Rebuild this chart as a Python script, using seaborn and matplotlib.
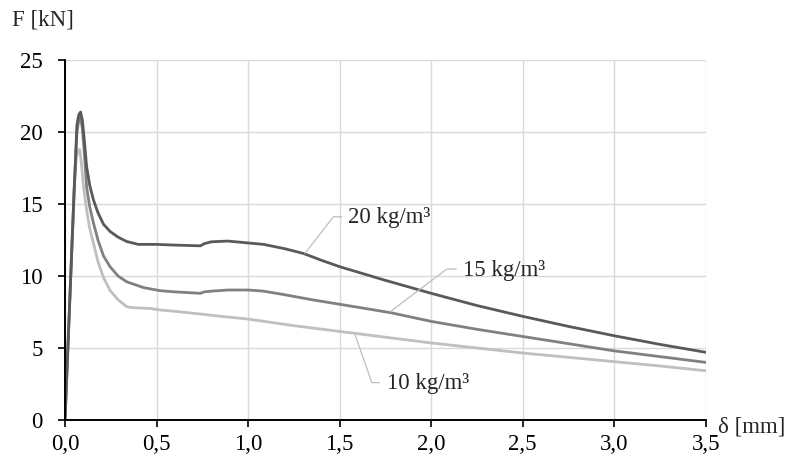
import numpy as np
import pandas as pd
import matplotlib
matplotlib.use("Agg")
import matplotlib.pyplot as plt
import seaborn as sns

# force-displacement curves
x20 = [0, 0.02, 0.05, 0.065, 0.075, 0.085, 0.095, 0.105, 0.118, 0.135, 0.155, 0.18, 0.21, 0.246, 0.29,
       0.337, 0.4, 0.5, 0.6, 0.74, 0.76, 0.8, 0.89, 1.0, 1.084, 1.2, 1.302, 1.4, 1.5, 1.75, 2.0, 2.25,
       2.5, 2.75, 3.0, 3.25, 3.5]
y20 = [0, 6.4, 16.0, 20.5, 21.2, 21.4, 20.8, 19.5, 17.6, 16.3, 15.3, 14.4, 13.6, 13.1, 12.7,
       12.4, 12.2, 12.2, 12.15, 12.1, 12.25, 12.38, 12.43, 12.3, 12.2, 11.9, 11.57, 11.1, 10.65, 9.7, 8.8, 7.95,
       7.2, 6.5, 5.85, 5.25, 4.7]

x15 = [0, 0.02, 0.05, 0.065, 0.075, 0.085, 0.095, 0.105, 0.118, 0.135, 0.155, 0.18, 0.21, 0.246, 0.29,
       0.337, 0.428, 0.52, 0.6, 0.74, 0.76, 0.8, 0.89, 1.0, 1.084, 1.2, 1.35, 1.557, 1.78, 2.0, 2.25,
       2.5, 2.75, 3.0, 3.25, 3.5]
y15 = [0, 6.4, 16.0, 20.0, 20.8, 21.05, 20.2, 18.6, 16.2, 14.8, 13.7, 12.5, 11.4, 10.65, 10.0,
       9.6, 9.2, 8.98, 8.9, 8.8, 8.9, 8.95, 9.03, 9.03, 8.95, 8.7, 8.35, 7.92, 7.45, 6.85, 6.3,
       5.8, 5.3, 4.8, 4.4, 4.0]

x10 = [0, 0.02, 0.05, 0.06, 0.07, 0.08, 0.09, 0.1, 0.118, 0.135, 0.155, 0.18, 0.21, 0.246, 0.29,
       0.337, 0.37, 0.464, 0.52, 0.6, 0.74, 0.85, 1.0, 1.25, 1.557, 1.75, 2.0, 2.25, 2.5, 2.75,
       3.0, 3.25, 3.5]
y10 = [0, 6.4, 16.0, 18.0, 18.7, 18.8, 17.8, 16.3, 14.6, 13.3, 12.3, 11.0, 9.9, 9.0, 8.35,
       7.87, 7.8, 7.75, 7.64, 7.55, 7.36, 7.2, 7.01, 6.55, 6.06, 5.75, 5.35, 5.0, 4.65, 4.35,
       4.05, 3.75, 3.42]

series = ["20 kg/m³", "15 kg/m³", "10 kg/m³"]
colors = ["#595959", "#808080", "#bfbfbf"]
xticks = [0, 0.5, 1.0, 1.5, 2.0, 2.5, 3.0, 3.5]
xtick_labels = ["0,0", "0,5", "1,0", "1,5", "2,0", "2,5", "3,0", "3,5"]
yticks = [0, 5, 10, 15, 20, 25]

frames = []
for name, xs, ys in zip(series, [x20, x15, x10], [y20, y15, y10]):
    frames.append(pd.DataFrame({"d": xs, "F": ys, "s": name}))
df = pd.concat(frames, ignore_index=True)

sns.set_style("white")
plt.rcParams["font.family"] = ["Liberation Serif", "DejaVu Serif"]

fig = plt.figure(figsize=(7.93, 4.63), dpi=100)
ax = fig.add_axes([0.082, 0.093, 0.808, 0.777])

ax.grid(True, color="#d9d9d9", linewidth=1.0)
ax.set_axisbelow(True)

# lightest first so the dark curve sits on top
sns.lineplot(data=df, x="d", y="F", hue="s", hue_order=series[::-1], palette=colors[::-1],
             sort=False, estimator=None, linewidth=2.0, legend=False, ax=ax)

ax.set_xlim(0, 3.5)
ax.set_ylim(0, 25)
ax.set_xticks(xticks)
ax.set_xticklabels(xtick_labels)
ax.set_yticks(yticks)
ax.set_xlabel("")
ax.set_ylabel("")

for s in ["top", "right"]:
    ax.spines[s].set_visible(False)
for s in ["left", "bottom"]:
    ax.spines[s].set_color("black")
    ax.spines[s].set_linewidth(1.4)

ax.tick_params(axis="both", direction="out", length=5, width=1.2, color="black",
               labelsize=16.5, labelcolor="black", bottom=True, left=True)
ax.tick_params(axis="x", pad=5)
ax.tick_params(axis="y", pad=11)

# labels with leader lines
lead = "#bfbfbf"
ax.plot([1.311, 1.466, 1.512], [11.58, 14.12, 14.12], color=lead, lw=0.9)
ax.text(1.548, 14.05, series[0], fontsize=16.5, va="center", ha="left")
ax.plot([1.776, 2.086, 2.137], [7.52, 10.49, 10.49], color=lead, lw=0.9)
ax.text(2.173, 10.4, series[1], fontsize=16.5, va="center", ha="left")
ax.plot([1.585, 1.676, 1.717], [5.9, 2.59, 2.59], color=lead, lw=0.9)
ax.text(1.761, 2.5, series[2], fontsize=16.5, va="center", ha="left")

fig.text(12 / 793, 1 - 20 / 463, "F [kN]", fontsize=16.5, va="center", ha="left")
fig.text(718 / 793, 1 - 427 / 463, "δ [mm]", fontsize=16.5, va="center", ha="left")

fig.savefig("out.png", dpi=100)
